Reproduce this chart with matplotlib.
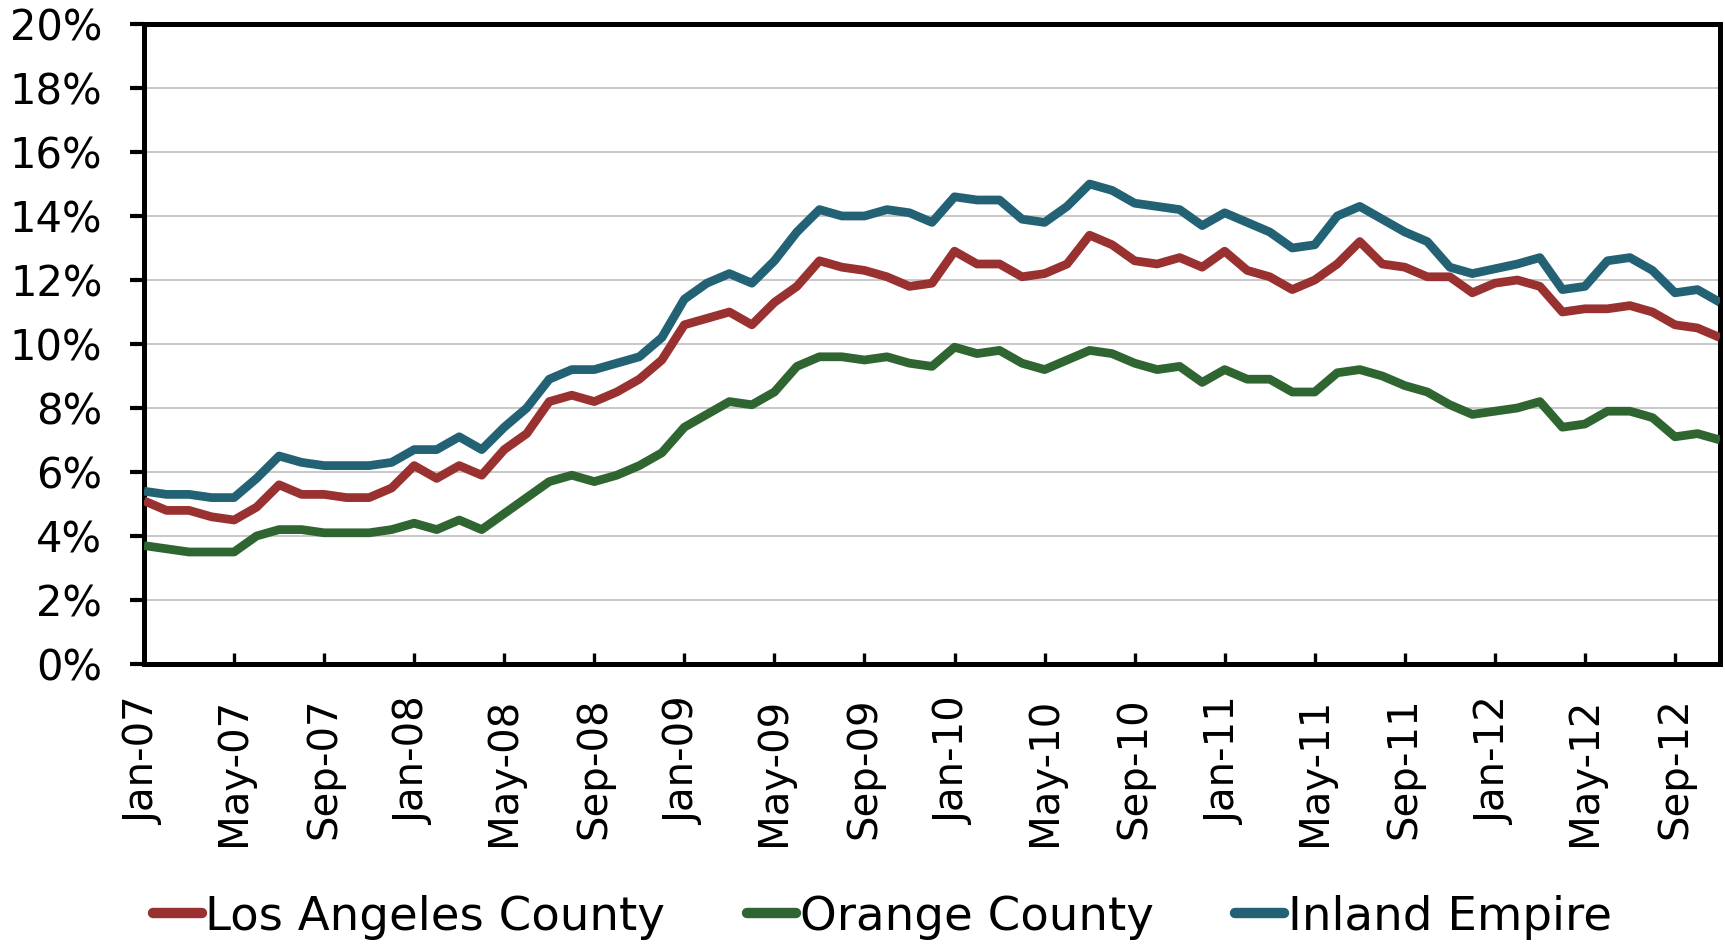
import matplotlib
matplotlib.use("Agg")
import matplotlib.pyplot as plt
import numpy as np
import pandas as pd

# ---- data (unemployment rate, %) ----
start_month = "2007-01"
n_months = 71  # Jan-07 .. Nov-12

los_angeles = [5.1, 4.8, 4.8, 4.6, 4.5, 4.9, 5.6, 5.3, 5.3, 5.2, 5.2, 5.5, 6.2, 5.8, 6.2, 5.9,
               6.7, 7.2, 8.2, 8.4, 8.2, 8.5, 8.9, 9.5, 10.6, 10.8, 11.0, 10.6, 11.3, 11.8, 12.6, 12.4,
               12.3, 12.1, 11.8, 11.9, 12.9, 12.5, 12.5, 12.1, 12.2, 12.5, 13.4, 13.1, 12.6, 12.5, 12.7, 12.4,
               12.9, 12.3, 12.1, 11.7, 12.0, 12.5, 13.2, 12.5, 12.4, 12.1, 12.1, 11.6, 11.9, 12.0, 11.8, 11.0,
               11.1, 11.1, 11.2, 11.0, 10.6, 10.5, 10.2]

orange = [3.7, 3.6, 3.5, 3.5, 3.5, 4.0, 4.2, 4.2, 4.1, 4.1, 4.1, 4.2, 4.4, 4.2, 4.5, 4.2,
          4.7, 5.2, 5.7, 5.9, 5.7, 5.9, 6.2, 6.6, 7.4, 7.8, 8.2, 8.1, 8.5, 9.3, 9.6, 9.6,
          9.5, 9.6, 9.4, 9.3, 9.9, 9.7, 9.8, 9.4, 9.2, 9.5, 9.8, 9.7, 9.4, 9.2, 9.3, 8.8,
          9.2, 8.9, 8.9, 8.5, 8.5, 9.1, 9.2, 9.0, 8.7, 8.5, 8.1, 7.8, 7.9, 8.0, 8.2, 7.4,
          7.5, 7.9, 7.9, 7.7, 7.1, 7.2, 7.0]

inland_empire = [5.4, 5.3, 5.3, 5.2, 5.2, 5.8, 6.5, 6.3, 6.2, 6.2, 6.2, 6.3, 6.7, 6.7, 7.1, 6.7,
                 7.4, 8.0, 8.9, 9.2, 9.2, 9.4, 9.6, 10.2, 11.4, 11.9, 12.2, 11.9, 12.6, 13.5, 14.2, 14.0,
                 14.0, 14.2, 14.1, 13.8, 14.6, 14.5, 14.5, 13.9, 13.8, 14.3, 15.0, 14.8, 14.4, 14.3, 14.2, 13.7,
                 14.1, 13.8, 13.5, 13.0, 13.1, 14.0, 14.3, 13.9, 13.5, 13.2, 12.4, 12.2, 12.35, 12.5, 12.7, 11.7,
                 11.8, 12.6, 12.7, 12.3, 11.6, 11.7, 11.3]

series_names = ["Los Angeles County", "Orange County", "Inland Empire"]
series_colors = ["#9A3131", "#2F6530", "#236274"]
y_ticks = [0, 2, 4, 6, 8, 10, 12, 14, 16, 18, 20]

months = pd.date_range(start_month, periods=n_months, freq="MS")
month_labels = [d.strftime("%b-%y") for d in months]
x = np.arange(n_months)

# ---- figure ----
plt.rcParams["font.family"] = ["DejaVu Sans"]
fig = plt.figure(figsize=(17.25, 9.44), dpi=100)
W, H = 1725, 944
ax = fig.add_axes([144 / W, (H - 664) / H, (1720 - 144) / W, (664 - 24) / H])

for vals, name, col in zip([los_angeles, orange, inland_empire], series_names, series_colors):
    ax.plot(x, vals, color=col, lw=6.3, label=name, solid_joinstyle="round",
            solid_capstyle="butt", zorder=3)

ax.set_xlim(0, n_months - 1)
ax.set_ylim(0, 20)
ax.set_yticks(y_ticks)
ax.set_yticklabels([f"{v}%" for v in y_ticks])
tick_idx = list(range(0, n_months, 4))
ax.set_xticks(tick_idx)
ax.set_xticklabels([month_labels[i] for i in tick_idx], rotation=90, va="top", ha="center")

ax.yaxis.grid(True, color="#BFBFBF", lw=1.2)
ax.set_axisbelow(True)

for s in ax.spines.values():
    s.set_linewidth(3.6)
    s.set_color("black")

ax.tick_params(axis="y", direction="out", length=10, width=3.0, labelsize=30, pad=20)
ax.tick_params(axis="x", direction="in", length=8, width=2.4, labelsize=29, pad=24)

leg = fig.legend(loc="center", bbox_to_anchor=(0.5115, (H - 917) / H), ncol=3, frameon=False,
                 fontsize=33.6, handlelength=1.05, handletextpad=0.08, columnspacing=1.75,
                 borderpad=0, borderaxespad=0)
for h in leg.get_lines():
    h.set_linewidth(7.5)
    h.set_solid_capstyle("round")

fig.savefig("out.png", dpi=100)
